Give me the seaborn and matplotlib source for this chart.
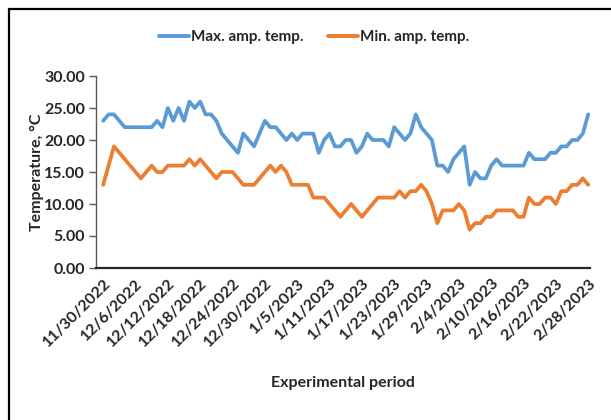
import matplotlib
matplotlib.use("Agg")
import matplotlib.pyplot as plt
from matplotlib.patches import Rectangle
import pandas as pd
import seaborn as sns

# Daily air temperature, 30 Nov 2022 - 28 Feb 2023 (°C)
start_date = "2022-11-30"
end_date = "2023-02-28"

max_temp = [
    23, 24, 24, 23, 22, 22, 22, 22, 22, 22,
    23, 22, 25, 23, 25, 23, 26, 25, 26, 24,
    24, 23, 21, 20, 19, 18, 21, 20, 19, 21,
    23, 22, 22, 21, 20, 21, 20, 21, 21, 21,
    18, 20, 21, 19, 19, 20, 20, 18, 19, 21,
    20, 20, 20, 19, 22, 21, 20, 21, 24, 22,
    21, 20, 16, 16, 15, 17, 18, 19, 13, 15,
    14, 14, 16, 17, 16, 16, 16, 16, 16, 18,
    17, 17, 17, 18, 18, 19, 19, 20, 20, 21,
    24,
]

min_temp = [
    13, 16, 19, 18, 17, 16, 15, 14, 15, 16,
    15, 15, 16, 16, 16, 16, 17, 16, 17, 16,
    15, 14, 15, 15, 15, 14, 13, 13, 13, 14,
    15, 16, 15, 16, 15, 13, 13, 13, 13, 11,
    11, 11, 10, 9, 8, 9, 10, 9, 8, 9,
    10, 11, 11, 11, 11, 12, 11, 12, 12, 13,
    12, 10, 7, 9, 9, 9, 10, 9, 6, 7,
    7, 8, 8, 9, 9, 9, 9, 8, 8, 11,
    10, 10, 11, 11, 10, 12, 12, 13, 13, 14,
    13,
]

series_names = ["Max. amp. temp.", "Min. amp. temp."]
series_colors = ["#5B9BD5", "#ED7D31"]

tick_dates = [
    "2022-11-30", "2022-12-06", "2022-12-12", "2022-12-18", "2022-12-24",
    "2022-12-30", "2023-01-05", "2023-01-11", "2023-01-17", "2023-01-23",
    "2023-01-29", "2023-02-04", "2023-02-10", "2023-02-16", "2023-02-22",
    "2023-02-28",
]
tick_labels = [
    "11/30/2022", "12/6/2022", "12/12/2022", "12/18/2022", "12/24/2022",
    "12/30/2022", "1/5/2023", "1/11/2023", "1/17/2023", "1/23/2023",
    "1/29/2023", "2/4/2023", "2/10/2023", "2/16/2023", "2/22/2023",
    "2/28/2023",
]
y_ticks = [0, 5, 10, 15, 20, 25, 30]

dates = pd.date_range(start_date, end_date, freq="D")
df = pd.concat([
    pd.DataFrame({"date": dates, "temp": max_temp, "series": series_names[0]}),
    pd.DataFrame({"date": dates, "temp": min_temp, "series": series_names[1]}),
])

sns.set_style("white")
plt.rcParams["font.family"] = ["Lato", "DejaVu Sans"]
plt.rcParams["font.weight"] = "bold"

FS = 11.5

fig = plt.figure(figsize=(6.11, 4.20), dpi=100)
ax = fig.add_axes([96 / 611, 1 - 268 / 420, (590 - 96) / 611, (268 - 76) / 420])

sns.lineplot(
    data=df, x="date", y="temp", hue="series",
    palette=dict(zip(series_names, series_colors)),
    linewidth=2.7, ax=ax, legend=False,
)

ax.set_ylim(0, 30)
ax.set_xlim(dates[0] - pd.Timedelta(hours=32), dates[-1] + pd.Timedelta(hours=8))
ax.set_yticks(y_ticks)
ax.set_yticklabels([f"{v:.2f}" for v in y_ticks], fontsize=FS, fontweight="bold")
ax.set_xticks(pd.to_datetime(tick_dates))
ax.set_xticklabels(tick_labels, rotation=45, ha="right", va="top",
                   rotation_mode="anchor", fontsize=FS, fontweight="bold")

ax.tick_params(axis="x", length=0, pad=6)
ax.tick_params(axis="y", length=5, width=1, color="#595959", left=True, pad=3)

for side in ("top", "right"):
    ax.spines[side].set_visible(False)
ax.spines["left"].set_color("#595959")
ax.spines["left"].set_linewidth(1.0)
ax.spines["bottom"].set_color("#262626")
ax.spines["bottom"].set_linewidth(1.6)

ax.set_xlabel("Experimental period", fontsize=FS, fontweight="bold")
ax.set_ylabel("Temperature, °C", fontsize=FS, fontweight="bold")
ax.xaxis.set_label_coords(0.5, -0.56)
ax.yaxis.set_label_coords(-0.105, 0.5)

handles = [plt.Line2D([], [], color=c, linewidth=2.8) for c in series_colors]
fig.legend(handles, series_names, loc="center", bbox_to_anchor=(314 / 611, 1 - 37 / 420),
           ncol=2, frameon=False, handlelength=2.0,
           handletextpad=0.1, columnspacing=1.6,
           prop={"weight": "bold", "size": 11})

fig.add_artist(Rectangle((9 / 611, -0.1), 1.2, 0.1 + 1 - 9 / 420,
                         transform=fig.transFigure, fill=False,
                         edgecolor="black", linewidth=1.6))

fig.savefig("out.png", dpi=100)
